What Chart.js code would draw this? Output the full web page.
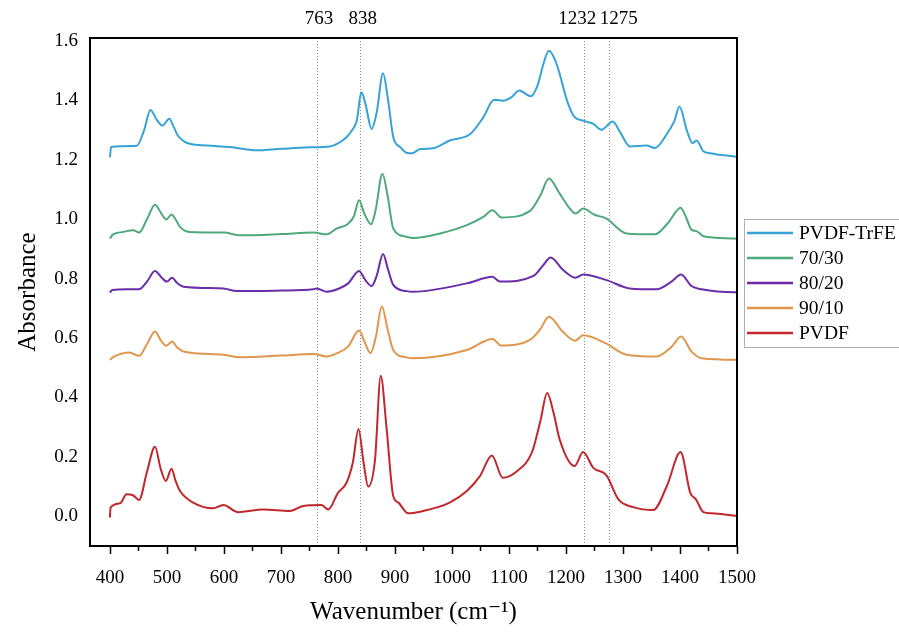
<!DOCTYPE html>
<html>
<head>
<meta charset="utf-8">
<script src="https://cdn.jsdelivr.net/npm/chart.js@4.4.0/dist/chart.umd.min.js"></script>
<style>
    body { margin: 0; background: #fff; }
</style>
</head>
<body>
<canvas id="myChart" width="899" height="635"></canvas>
<script>
// axis ticks and the marked bands
const xTicks = [400, 500, 600, 700, 800, 900, 1000, 1100, 1200, 1300, 1400, 1500];
const yTicks = [0, 0.2, 0.4, 0.6, 0.8, 1.0, 1.2, 1.4, 1.6];
const markerLines = [763, 838, 1232, 1275];
const markerNudge = [2, 3, -7, 10]; // labels sit a bit off their lines

const seriesNames = ['PVDF-TrFE', '70/30', '80/20', '90/10', 'PVDF'];
const seriesColors = ['#35a3d6', '#4fa97c', '#6a2ca8', '#e0964c', '#c1272d'];

// PVDF-TrFE
const trfeX = [400, 402, 420, 447, 460, 471, 482, 492, 504, 512, 519, 530, 540, 570, 610, 657, 700, 750, 786, 800, 815, 825, 833, 841, 848, 859, 868, 879, 888, 897, 909, 920, 930, 944, 967, 996, 1032, 1055, 1074, 1090, 1104, 1118, 1138, 1150, 1160, 1170, 1180, 1189, 1200, 1213, 1233, 1248, 1262, 1282, 1295, 1312, 1341, 1356, 1377, 1390, 1399, 1412, 1422, 1429, 1441, 1453, 1496, 1500];
const trfeY = [1.208, 1.243, 1.246, 1.247, 1.30, 1.368, 1.335, 1.315, 1.338, 1.31, 1.282, 1.262, 1.254, 1.248, 1.243, 1.232, 1.237, 1.242, 1.245, 1.255, 1.276, 1.30, 1.332, 1.427, 1.39, 1.304, 1.36, 1.491, 1.40, 1.276, 1.243, 1.224, 1.222, 1.236, 1.239, 1.265, 1.287, 1.343, 1.402, 1.399, 1.41, 1.433, 1.414, 1.45, 1.52, 1.567, 1.54, 1.489, 1.41, 1.349, 1.330, 1.321, 1.301, 1.329, 1.293, 1.245, 1.248, 1.240, 1.287, 1.33, 1.379, 1.299, 1.256, 1.265, 1.229, 1.222, 1.211, 1.210];

// 70/30
const s7030X = [400, 405, 423, 441, 451, 465, 479, 490, 499, 508, 515, 523, 540, 600, 628, 700, 757, 780, 798, 818, 828, 837, 846, 858, 866, 878, 887, 897, 920, 932, 979, 1026, 1055, 1071, 1087, 1137, 1155, 1170, 1189, 1205, 1217, 1230, 1250, 1271, 1306, 1356, 1380, 1401, 1412, 1420, 1429, 1441, 1496, 1500];
const s7030Y = [0.935, 0.948, 0.957, 0.963, 0.955, 1.00, 1.049, 1.02, 0.999, 1.016, 1.00, 0.974, 0.957, 0.955, 0.946, 0.950, 0.955, 0.949, 0.969, 0.985, 1.01, 1.064, 1.02, 0.983, 1.03, 1.153, 1.08, 0.969, 0.941, 0.937, 0.952, 0.980, 1.008, 1.030, 1.006, 1.028, 1.08, 1.137, 1.086, 1.04, 1.019, 1.036, 1.015, 1.002, 0.952, 0.949, 0.99, 1.039, 1.00, 0.965, 0.960, 0.943, 0.935, 0.934];

// 80/20
const s8020X = [400, 404, 430, 451, 465, 479, 490, 500, 509, 518, 529, 599, 622, 700, 757, 763, 780, 800, 818, 837, 848, 859, 868, 879, 888, 897, 920, 932, 1026, 1071, 1084, 1143, 1160, 1173, 1195, 1217, 1230, 1271, 1312, 1359, 1385, 1402, 1420, 1438, 1496, 1500];
const s8020Y = [0.753, 0.762, 0.764, 0.764, 0.79, 0.826, 0.805, 0.790, 0.803, 0.785, 0.773, 0.767, 0.758, 0.760, 0.764, 0.767, 0.756, 0.765, 0.784, 0.826, 0.795, 0.775, 0.81, 0.883, 0.83, 0.779, 0.758, 0.756, 0.784, 0.806, 0.790, 0.809, 0.845, 0.871, 0.829, 0.803, 0.814, 0.795, 0.767, 0.764, 0.79, 0.814, 0.775, 0.764, 0.754, 0.754];

// 90/10
const s9010X = [400, 408, 434, 451, 465, 479, 490, 499, 509, 518, 529, 599, 628, 700, 757, 780, 800, 818, 837, 847, 857, 866, 877, 887, 897, 920, 932, 1026, 1071, 1086, 1137, 1155, 1170, 1195, 1216, 1230, 1271, 1306, 1359, 1385, 1402, 1420, 1438, 1496, 1500];
const s9010Y = [0.527, 0.538, 0.551, 0.540, 0.58, 0.622, 0.59, 0.574, 0.588, 0.568, 0.555, 0.544, 0.535, 0.541, 0.546, 0.538, 0.55, 0.572, 0.625, 0.585, 0.549, 0.60, 0.706, 0.63, 0.560, 0.535, 0.532, 0.560, 0.597, 0.575, 0.594, 0.63, 0.672, 0.620, 0.591, 0.609, 0.581, 0.544, 0.538, 0.57, 0.605, 0.555, 0.532, 0.527, 0.527];

// PVDF
const pvdfX = [400, 401, 418, 429, 441, 451, 465, 479, 489, 498, 508, 515, 523, 546, 581, 599, 625, 669, 716, 739, 771, 783, 800, 815, 826, 836, 845, 853, 865, 875, 885, 897, 906, 923, 950, 996, 1026, 1049, 1070, 1089, 1114, 1140, 1155, 1167, 1178, 1189, 1215, 1230, 1248, 1271, 1292, 1318, 1353, 1377, 1401, 1418, 1428, 1441, 1455, 1500];
const pvdfY = [-0.004, 0.029, 0.044, 0.074, 0.070, 0.055, 0.15, 0.234, 0.16, 0.119, 0.160, 0.12, 0.085, 0.046, 0.027, 0.038, 0.014, 0.023, 0.018, 0.035, 0.038, 0.023, 0.079, 0.113, 0.18, 0.294, 0.18, 0.100, 0.191, 0.473, 0.303, 0.068, 0.046, 0.010, 0.018, 0.046, 0.085, 0.135, 0.205, 0.130, 0.152, 0.214, 0.32, 0.415, 0.35, 0.258, 0.169, 0.216, 0.163, 0.138, 0.057, 0.031, 0.021, 0.102, 0.216, 0.079, 0.057, 0.014, 0.010, 0.001];

const allX = [trfeX, s7030X, s8020X, s9010X, pvdfX];
const allY = [trfeY, s7030Y, s8020Y, s9010Y, pvdfY];

const serif = '"Liberation Serif", "DejaVu Serif", serif';

const datasets = seriesNames.map((name, i) => ({
    label: name,
    data: allX[i].map((x, j) => ({x: x, y: allY[i][j]})),
    borderColor: seriesColors[i],
    borderWidth: 2,
    pointRadius: 0,
    cubicInterpolationMode: 'monotone',
    fill: false
}));

const decorPlugin = {
    id: 'decor',
    beforeDatasetsDraw(chart) {
        const {ctx, chartArea: a, scales: {x}} = chart;
        ctx.save();
        ctx.strokeStyle = '#8a8a8a';
        ctx.lineWidth = 1;
        ctx.setLineDash([1, 2]);
        markerLines.forEach(v => {
            const px = Math.round(x.getPixelForValue(v)) + 0.5;
            ctx.beginPath();
            ctx.moveTo(px, a.top);
            ctx.lineTo(px, a.bottom);
            ctx.stroke();
        });
        ctx.setLineDash([]);
        ctx.fillStyle = '#000';
        ctx.font = '19px ' + serif;
        ctx.textAlign = 'center';
        ctx.textBaseline = 'middle';
        markerLines.forEach((v, i) => ctx.fillText(String(v), x.getPixelForValue(v) + markerNudge[i], 19));
        ctx.restore();
    },
    afterDraw(chart) {
        const {ctx, chartArea: a, scales: {x}} = chart;
        ctx.save();
        // frame
        ctx.strokeStyle = '#000';
        ctx.lineWidth = 2;
        ctx.strokeRect(a.left, a.top, a.right - a.left, a.bottom - a.top);
        // x ticks, major and minor
        ctx.lineWidth = 1.5;
        xTicks.forEach((v, i) => {
            const px = Math.round(x.getPixelForValue(v)) + 0.5;
            ctx.beginPath();
            ctx.moveTo(px, a.bottom);
            ctx.lineTo(px, a.bottom + 8);
            ctx.stroke();
            if (i < xTicks.length - 1) {
                const mx = Math.round(x.getPixelForValue((v + xTicks[i + 1]) / 2)) + 0.5;
                ctx.beginPath();
                ctx.moveTo(mx, a.bottom);
                ctx.lineTo(mx, a.bottom + 5);
                ctx.stroke();
            }
        });
        // legend
        const lx = 744, ly = 219, lh = 25;
        ctx.lineWidth = 1;
        ctx.strokeStyle = '#b0b0b0';
        ctx.strokeRect(lx + 0.5, ly + 0.5, 170, 128);
        ctx.font = '19.5px ' + serif;
        ctx.textAlign = 'left';
        ctx.textBaseline = 'middle';
        chart.data.datasets.forEach((ds, i) => {
            const y = ly + 14 + i * lh;
            ctx.strokeStyle = ds.borderColor;
            ctx.lineWidth = 2.5;
            ctx.beginPath();
            ctx.moveTo(747, y);
            ctx.lineTo(793, y);
            ctx.stroke();
            ctx.fillStyle = '#000';
            ctx.fillText(ds.label, 799, y + 1);
        });
        ctx.restore();
    }
};

const config = {
    type: 'line',
    data: {datasets: datasets},
    options: {
        responsive: false,
        animation: false,
        devicePixelRatio: 1,
        layout: {padding: {left: 0, right: 162, top: 38, bottom: 0}},
        plugins: {legend: {display: false}, tooltip: {enabled: false}},
        scales: {
            x: {
                type: 'linear',
                min: 365,
                max: 1500,
                afterBuildTicks: (scale) => { scale.ticks = xTicks.map(v => ({value: v})); },
                afterFit: (scale) => { scale.height = 89; },
                grid: {display: false, drawTicks: false},
                border: {display: false},
                ticks: {
                    padding: 21,
                    maxRotation: 0,
                    autoSkip: false,
                    color: '#000',
                    font: {family: serif, size: 19},
                    callback: (v) => String(v)
                },
                title: {
                    display: true,
                    text: 'Wavenumber (cm\u207B\u00B9)',
                    color: '#000',
                    font: {family: serif, size: 25},
                    padding: {top: 0, bottom: 8}
                }
            },
            y: {
                min: -0.1,
                max: 1.61,
                afterBuildTicks: (scale) => { scale.ticks = yTicks.map(v => ({value: v})); },
                afterFit: (scale) => { scale.width = 90; },
                grid: {display: false, drawTicks: false},
                border: {display: false},
                ticks: {
                    padding: 12,
                    color: '#000',
                    font: {family: serif, size: 19},
                    callback: (v) => v.toFixed(1)
                },
                title: {
                    display: true,
                    text: 'Absorbance',
                    color: '#000',
                    font: {family: serif, size: 25},
                    padding: {top: 13, bottom: 0}
                }
            }
        }
    },
    plugins: [decorPlugin]
};

var myChart = new Chart(document.getElementById('myChart'), config);
</script>
</body>
</html>
